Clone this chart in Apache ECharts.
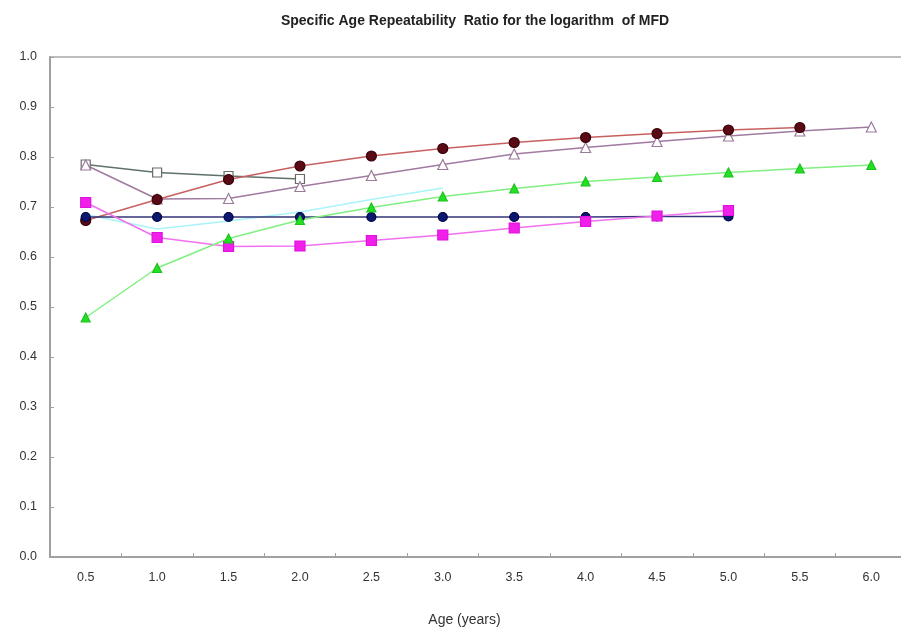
<!DOCTYPE html>
<html>
<head>
<meta charset="utf-8">
<script src="https://cdn.jsdelivr.net/npm/echarts@6/dist/echarts.min.js"></script>
<style>
  html, body { margin: 0; padding: 0; background: #fff; overflow: hidden; }
  /* the plot frame runs past the right edge of the page */
  #chart { width: 910px; height: 635px; }
</style>
</head>
<body>
<div id="chart"></div>
<script>
// Age classes on the horizontal axis
const ages = ['0.5', '1.0', '1.5', '2.0', '2.5', '3.0', '3.5', '4.0', '4.5', '5.0', '5.5', '6.0'];

// Repeatability ratio per age class for each curve (null = no value)
const cyanLine    = [0.685, 0.656, 0.672, 0.690, 0.715, 0.738, null, null, null, null, null, null];
const graySquares = [0.785, 0.769, 0.762, 0.756, null, null, null, null, null, null, null, null];
const openTriang  = [0.784, 0.716, 0.717, 0.741, 0.763, 0.785, 0.806, 0.819, 0.831, 0.842, 0.852, 0.860];
const darkRed     = [0.673, 0.715, 0.755, 0.782, 0.802, 0.817, 0.829, 0.839, 0.847, 0.854, 0.859, null];
const navy        = [0.680, 0.680, 0.680, 0.680, 0.680, 0.680, 0.680, 0.680, 0.681, 0.681, null, null];
const magenta     = [0.709, 0.639, 0.621, 0.622, 0.633, 0.644, 0.658, 0.671, 0.682, 0.693, null, null];
const greenTri    = [0.479, 0.578, 0.637, 0.674, 0.699, 0.721, 0.737, 0.751, 0.760, 0.769, 0.777, 0.784];

// Y axis tick values
const yMin = 0.0, yMax = 1.0, yStep = 0.1;

const FONT = 'Liberation Sans, Arial, sans-serif';
const chart = echarts.init(document.getElementById('chart'), null, { renderer: 'canvas' });

function line(name, data, lineColor, symbol, fill, border, size) {
  return {
    name, type: 'line', data,
    symbol, symbolSize: size,
    showSymbol: symbol !== 'none',
    connectNulls: false,
    lineStyle: { color: lineColor, width: 1.5 },
    itemStyle: { color: fill, borderColor: border, borderWidth: 1.2 },
    emphasis: { disabled: true },
    animation: false
  };
}

chart.setOption({
  backgroundColor: '#ffffff',
  title: {
    text: 'Specific Age Repeatability  Ratio for the logarithm  of MFD',
    left: 470, top: 9, textAlign: 'center',
    textStyle: { fontFamily: FONT, fontSize: 14, fontWeight: 'bold', color: '#222' }
  },
  grid: {
    left: 50, right: 3, top: 57, bottom: 78,
    show: true, borderColor: '#a8a8a8', borderWidth: 1.5, backgroundColor: 'transparent'
  },
  xAxis: {
    type: 'category', data: ages, boundaryGap: true,
    name: 'Age (years)', nameLocation: 'middle', nameGap: 56,
    nameTextStyle: { fontFamily: FONT, fontSize: 14, color: '#333', padding: [0, 28, 0, 0] },
    axisLine: { lineStyle: { color: '#a0a0a0', width: 2 } },
    axisTick: { show: true, inside: true, length: 4, alignWithLabel: false, lineStyle: { color: '#a0a0a0' } },
    axisLabel: { margin: 14, fontFamily: FONT, fontSize: 12.5, color: '#333' },
    splitLine: { show: false }
  },
  yAxis: {
    type: 'value', min: yMin, max: yMax, interval: yStep,
    axisLine: { show: true, lineStyle: { color: '#a0a0a0', width: 2 } },
    axisTick: { show: true, inside: true, length: 4, lineStyle: { color: '#a0a0a0' } },
    axisLabel: { margin: 13, fontFamily: FONT, fontSize: 12.5, color: '#333',
      formatter: v => v.toFixed(1) },
    splitLine: { show: false }
  },
  series: [
    line('cyan', cyanLine, '#a8f4f8', 'none', '#a8f4f8', '#a8f4f8', 0),
    line('grey squares', graySquares, '#5f7268', 'rect', '#ffffff', '#6a6a6a', 9),
    line('open triangles', openTriang, '#a07aa0', 'triangle', '#ffffff', '#9a7a9a', 10),
    line('dark red', darkRed, '#c86060', 'circle', '#5a0a14', '#3a0008', 10),
    line('navy', navy, '#35357a', 'circle', '#0a1870', '#000040', 9),
    line('magenta', magenta, '#f070f0', 'rect', '#f020e8', '#e010e0', 10),
    line('green', greenTri, '#80f080', 'triangle', '#22e022', '#20c020', 9)
  ]
});
</script>
</body>
</html>
